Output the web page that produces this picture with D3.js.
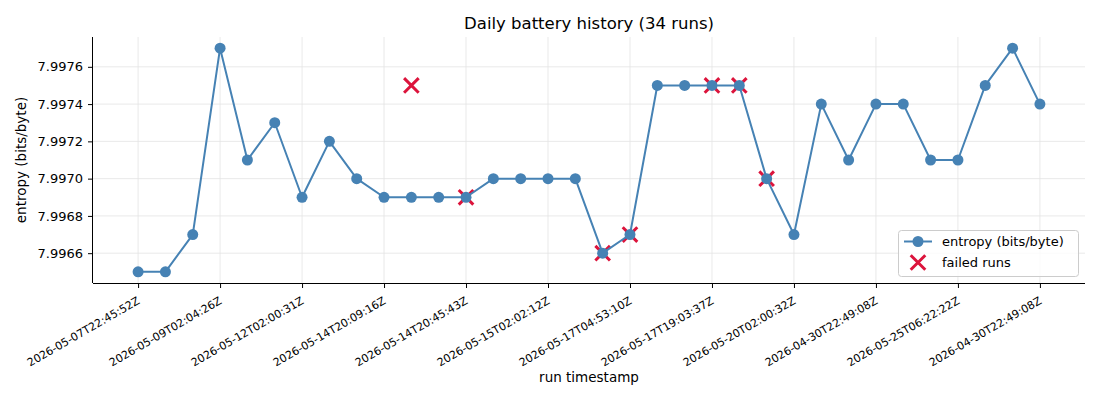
<!DOCTYPE html>
<html>
<head>
<meta charset="utf-8">
<script src="https://cdn.jsdelivr.net/npm/d3@7"></script>
<style>
  html, body { margin: 0; padding: 0; background: #fff; }
  svg { display: block; font-family: "DejaVu Sans", sans-serif; }
</style>
</head>
<body>
<svg id="chart" width="1100" height="400"></svg>
<script>
const entropy = [7.9965, 7.9965, 7.9967, 7.9977, 7.9971, 7.9973, 7.9969, 7.9972, 7.9970, 7.9969,
                 7.9969, 7.9969, 7.9969, 7.9970, 7.9970, 7.9970, 7.9970, 7.9966, 7.9967, 7.9975,
                 7.9975, 7.9975, 7.9975, 7.9970, 7.9967, 7.9974, 7.9971, 7.9974, 7.9974, 7.9971,
                 7.9971, 7.9975, 7.9977, 7.9974];
const failedIdx = [10, 12, 17, 18, 21, 22, 23];
const failedVal = [7.9975, 7.9969, 7.9966, 7.9967, 7.9975, 7.9975, 7.9970];
const tickIdx = [0, 3, 6, 9, 12, 15, 18, 21, 24, 27, 30, 33];
const tickLabels = ["2026-05-07T22:45:52Z", "2026-05-09T02:04:26Z", "2026-05-12T02:00:31Z",
  "2026-05-14T20:09:16Z", "2026-05-14T20:45:43Z", "2026-05-15T02:02:12Z", "2026-05-17T04:53:10Z",
  "2026-05-17T19:03:37Z", "2026-05-20T02:00:32Z", "2026-04-30T22:49:08Z", "2026-05-25T06:22:22Z",
  "2026-04-30T22:49:08Z"];
const yTicks = [7.9966, 7.9968, 7.9970, 7.9972, 7.9974, 7.9976];

const svg = d3.select("#chart");
const L = 93, R = 1085, T = 37, B = 283;
const n = entropy.length;
const x = d3.scaleLinear().domain([-1.65, n - 1 + 1.65]).range([L, R]);
const yMin = 7.9965, yMax = 7.9977, pad = (yMax - yMin) * 0.05;
const y = d3.scaleLinear().domain([yMin - pad, yMax + pad]).range([B, T]);

const steel = "#4682b4", crimson = "#dc143c";

// grid
const g = svg.append("g");
g.selectAll(".vg").data(tickIdx).join("line")
  .attr("x1", d => x(d)).attr("x2", d => x(d)).attr("y1", T).attr("y2", B)
  .attr("stroke", "#e3e3e3").attr("stroke-width", 0.8);
g.selectAll(".hg").data(yTicks).join("line")
  .attr("x1", L).attr("x2", R).attr("y1", d => y(d)).attr("y2", d => y(d))
  .attr("stroke", "#e3e3e3").attr("stroke-width", 0.8);

// axes
const xAxis = d3.axisBottom(x).tickValues(tickIdx).tickFormat((d, i) => tickLabels[i]).tickSize(5).tickSizeOuter(0);
const xg = svg.append("g").attr("transform", `translate(0,${B})`).call(xAxis);
xg.select(".domain").attr("stroke", "#000").attr("stroke-width", 1).attr("d", `M${L},0.5H${R}`);
xg.selectAll(".tick line").attr("stroke", "#000");
xg.selectAll(".tick text")
  .attr("font-size", 11).attr("font-family", "DejaVu Sans").attr("fill", "#000")
  .attr("text-anchor", "end").attr("dy", null).attr("y", 0)
  .attr("transform", "translate(-2,13) rotate(-30)")
  .attr("dominant-baseline", "hanging");

const yAxis = d3.axisLeft(y).tickValues(yTicks).tickFormat(d3.format(".4f")).tickSize(5).tickSizeOuter(0);
const yg = svg.append("g").attr("transform", `translate(${L},0)`).call(yAxis);
yg.select(".domain").attr("stroke", "#000").attr("stroke-width", 1).attr("d", `M-0.5,${T}V${B}`);
yg.selectAll(".tick line").attr("stroke", "#000");
yg.selectAll(".tick text").attr("font-size", 13).attr("font-family", "DejaVu Sans").attr("fill", "#000").attr("x", -10);

// failed markers (under line)
function xPath(s) { return `M${-s},${-s}L${s},${s}M${-s},${s}L${s},${-s}`; }
svg.append("g").selectAll("path").data(failedIdx).join("path")
  .attr("transform", (d, i) => `translate(${x(d)},${y(failedVal[i])})`)
  .attr("d", xPath(7.3)).attr("stroke", crimson).attr("stroke-width", 3).attr("fill", "none");

// line
const line = d3.line().x((d, i) => x(i)).y(d => y(d));
svg.append("path").datum(entropy).attr("d", line)
  .attr("fill", "none").attr("stroke", steel).attr("stroke-width", 2).attr("stroke-linejoin", "round");
svg.append("g").selectAll("circle").data(entropy).join("circle")
  .attr("cx", (d, i) => x(i)).attr("cy", d => y(d)).attr("r", 5.5).attr("fill", steel);

// title and labels
svg.append("text").attr("x", (L + R) / 2).attr("y", 29).attr("text-anchor", "middle")
  .attr("font-size", 16.5).text("Daily battery history (34 runs)");
svg.append("text").attr("x", (L + R) / 2).attr("y", 382).attr("text-anchor", "middle")
  .attr("font-size", 13.5).text("run timestamp");
svg.append("text").attr("transform", `translate(26,${(T + B) / 2}) rotate(-90)`).attr("text-anchor", "middle")
  .attr("font-size", 13.5).text("entropy (bits/byte)");

// legend
const lg = svg.append("g").attr("transform", "translate(898,230)");
lg.append("rect").attr("x", 0.5).attr("y", 0.5).attr("width", 180).attr("height", 46).attr("rx", 3)
  .attr("fill", "#fff").attr("fill-opacity", 0.8).attr("stroke", "#ccc");
lg.append("line").attr("x1", 6).attr("x2", 34).attr("y1", 11.5).attr("y2", 11.5).attr("stroke", steel).attr("stroke-width", 2);
lg.append("circle").attr("cx", 20).attr("cy", 11.5).attr("r", 5.5).attr("fill", steel);
lg.append("text").attr("x", 44).attr("y", 16).attr("font-size", 13).text("entropy (bits/byte)");
lg.append("path").attr("transform", "translate(20,32.5)").attr("d", xPath(7.3))
  .attr("stroke", crimson).attr("stroke-width", 3).attr("fill", "none");
lg.append("text").attr("x", 44).attr("y", 37).attr("font-size", 13).text("failed runs");
</script>
</body>
</html>
